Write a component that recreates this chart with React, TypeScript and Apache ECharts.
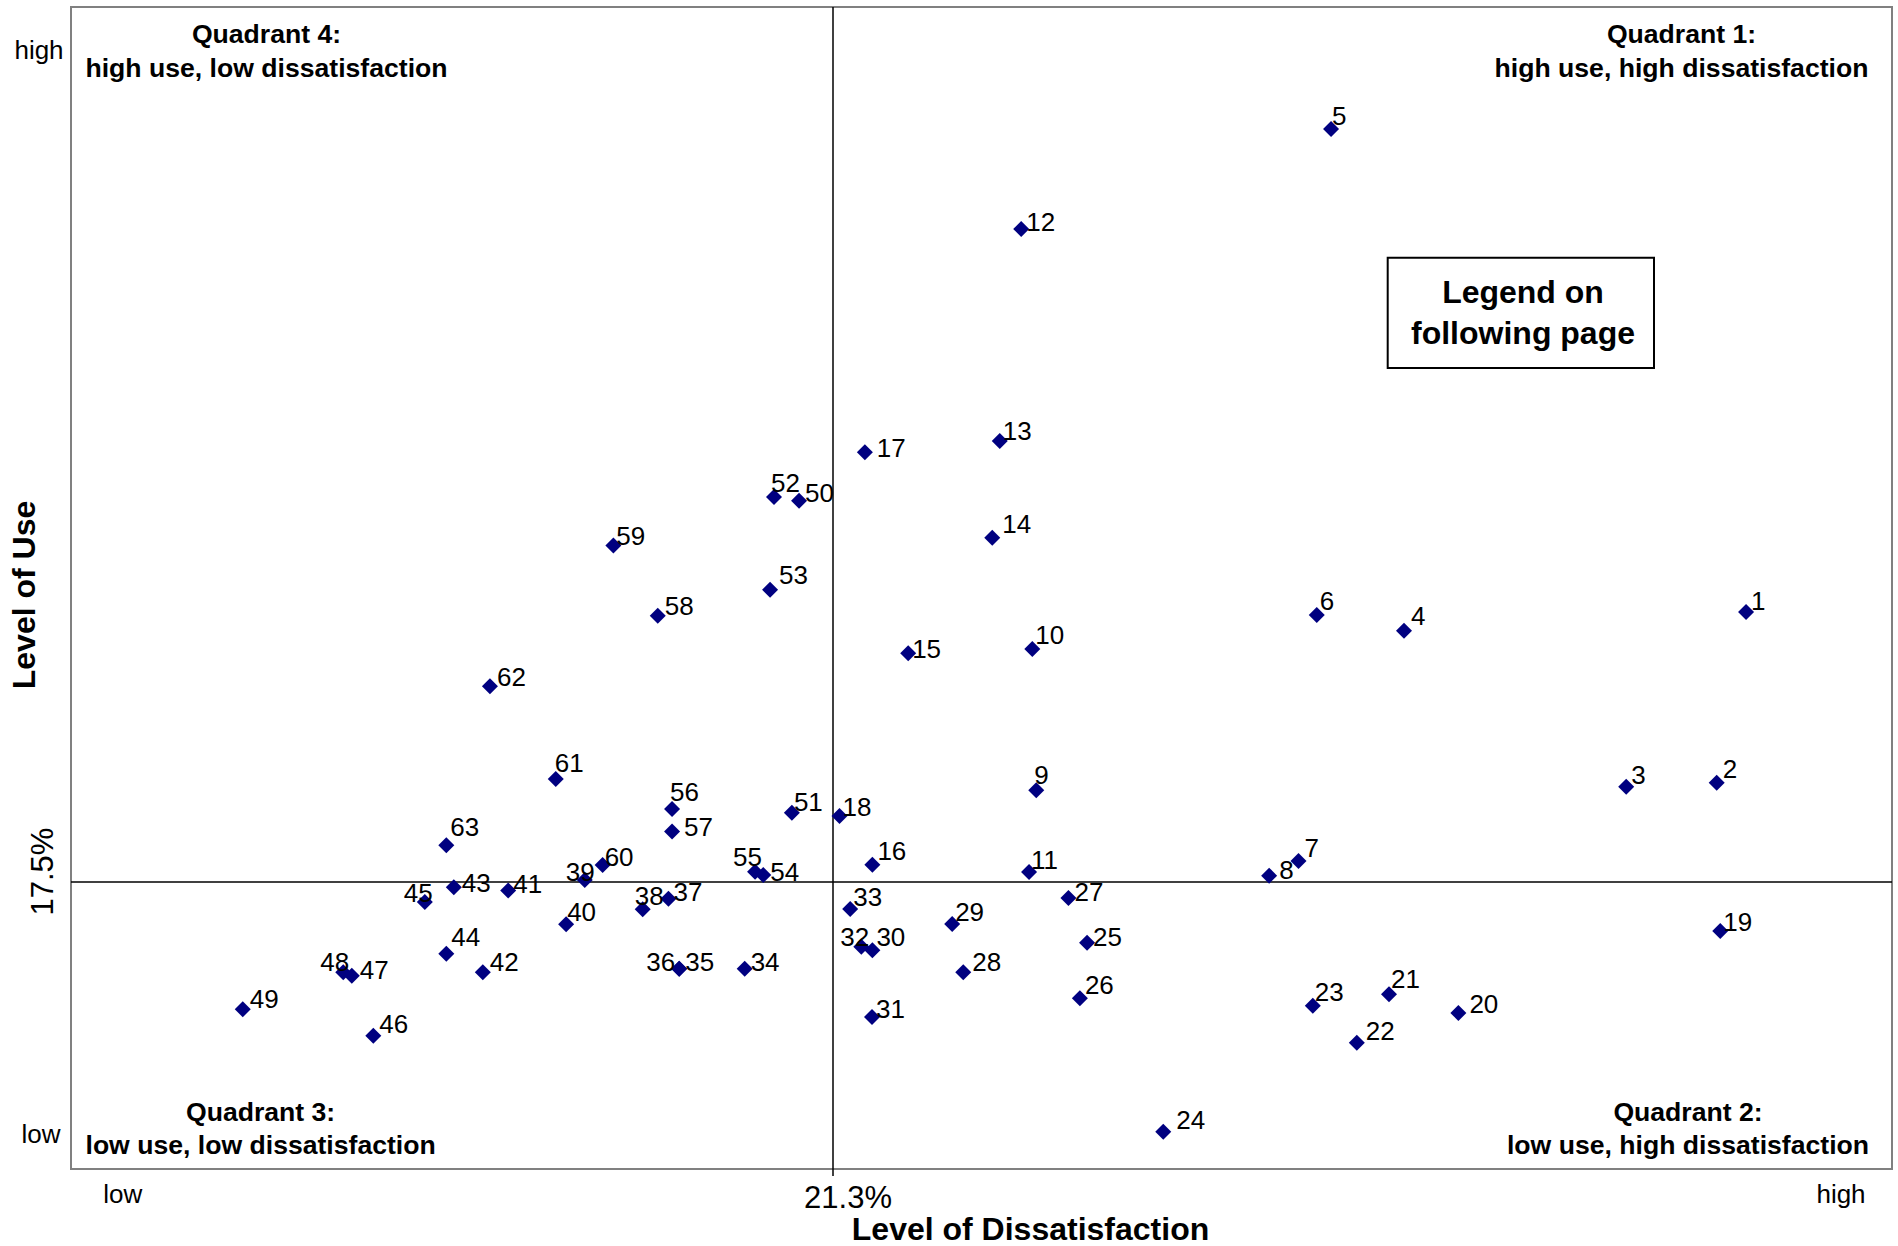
import React, { useEffect, useRef } from "react";
import * as echarts from "echarts";

// ---- data ----
const pointIds = [
  1, 2, 3, 4, 5, 6, 7, 8, 9, 10, 11, 12, 13, 14, 15, 16, 17, 18, 19, 20, 21,
  22, 23, 24, 25, 26, 27, 28, 29, 30, 31, 32, 33, 34, 35, 36, 37, 38, 39, 40,
  41, 42, 43, 44, 45, 46, 47, 48, 49, 50, 51, 52, 53, 54, 55, 56, 57, 58, 59,
  60, 61, 62, 63,
];

// Level of Dissatisfaction (x)
const dissatisfaction = [
  46.82, 46.0, 43.47, 37.26, 35.22, 34.82, 34.31, 33.49, 26.98, 26.87, 26.78,
  26.56, 25.96, 25.75, 23.4, 22.4, 22.19, 21.48, 46.1, 38.78, 36.84, 35.94,
  34.71, 30.53, 28.4, 28.2, 27.88, 24.94, 24.63, 22.4, 22.39, 22.09, 21.78,
  18.83, 17.0, 17.0, 16.7, 15.98, 14.36, 13.84, 12.22, 11.51, 10.7, 10.49,
  9.89, 8.45, 7.85, 7.61, 4.8, 20.35, 20.15, 19.65, 19.54, 19.35, 19.12, 16.8,
  16.8, 16.4, 15.16, 14.86, 13.55, 11.71, 10.49,
];

// Level of Use (y)
const levelOfUse = [
  33.99, 23.57, 23.33, 32.84, 63.46, 33.8, 18.8, 17.9, 23.11, 31.73, 18.12,
  57.35, 44.42, 38.52, 31.47, 18.57, 43.73, 21.54, 14.52, 9.52, 10.66, 7.71,
  9.96, 2.28, 13.81, 10.42, 16.53, 12.0, 14.95, 13.34, 9.27, 13.56, 15.86,
  12.22, 12.22, 12.22, 16.49, 15.85, 17.63, 14.93, 17.0, 12.0, 17.19, 13.14,
  16.29, 8.13, 11.79, 12.0, 9.74, 40.78, 21.74, 41.0, 35.35, 17.94, 18.14,
  21.97, 20.6, 33.76, 38.05, 18.55, 23.8, 29.45, 19.75,
];

const X_MIN = 0;
const X_MAX = 50.9;
const X_CROSS = 21.3;
const Y_MIN = 0;
const Y_MAX = 70.9;
const Y_CROSS = 17.5;

const endLabels = { low: "low", high: "high" };
const xAxisTitle = "Level of Dissatisfaction";
const yAxisTitle = "Level of Use";
const quadrantTitles = ["Quadrant 1:", "Quadrant 2:", "Quadrant 3:", "Quadrant 4:"];
const quadrantSubtitles = [
  "high use, high dissatisfaction",
  "low use, high dissatisfaction",
  "low use, low dissatisfaction",
  "high use, low dissatisfaction",
];
const legendNote = ["Legend on", "following page"];

// ---- label placement (manual nudges, as in the original) ----
const DEFAULT_NUDGE: [number, number] = [5, -11];
const labelNudge: Record<number, [number, number]> = {
  1: [5, -11], 2: [6, -14], 3: [5, -12], 4: [7, -15], 5: [1, -13], 6: [3, -14],
  7: [6, -13], 8: [10, -6], 9: [-2, -15], 10: [3, -14], 11: [2, -12], 12: [5, -7],
  13: [3, -10], 14: [10, -14], 15: [4, -4], 16: [5, -14], 17: [12, -4], 18: [3, -9],
  19: [3, -9], 20: [11, -9], 21: [2, -15], 22: [9, -12], 23: [2, -14], 24: [13, -12],
  25: [6, -6], 26: [5, -13], 27: [6, -6], 28: [9, -10], 29: [3, -12], 30: [4, -13],
  31: [4, -8], 32: [-21, -10], 33: [3, -12], 34: [6, -7], 35: [6, -7], 36: [-33, -7],
  37: [5, -7], 38: [-8, -13], 39: [-19, -8], 40: [1, -12], 41: [5, -6], 42: [7, -10],
  43: [8, -4], 44: [5, -17], 45: [-21, -9], 46: [6, -12], 47: [8, -6], 48: [-23, -10],
  49: [7, -10], 50: [6, -8], 51: [2, -11], 52: [-3, -14], 53: [9, -15], 54: [7, -3],
  55: [-22, -15], 56: [-2, -17], 57: [12, -4], 58: [7, -10], 59: [3, -9], 60: [2, -8],
  61: [-1, -16], 62: [7, -9], 63: [4, -18],
};

const FONT = "'Liberation Sans', Arial, Helvetica, sans-serif";

export default function App() {
  const ref = useRef<HTMLDivElement>(null);

  useEffect(() => {
    if (!ref.current) return;
    const chart = echarts.init(ref.current, undefined, { renderer: "svg" });

    const data = pointIds.map((id, i) => ({
      name: String(id),
      value: [dissatisfaction[i], levelOfUse[i]],
      label: { offset: labelNudge[id] || DEFAULT_NUDGE },
    }));

    const txt = (
      text: string,
      x: number,
      y: number,
      size: number,
      bold: boolean,
      align: string = "center",
      rotation: number = 0
    ) => ({
      type: "text",
      x,
      y,
      rotation,
      silent: true,
      style: {
        text,
        fill: "#000",
        font: `${bold ? "bold " : ""}${size}px ${FONT}`,
        textAlign: align,
        textVerticalAlign: "middle",
      },
    });

    const Q = 26.6;
    const graphics: any[] = [
      // quadrant captions
      txt(quadrantTitles[3], 266.5, 34.3, Q, true),
      txt(quadrantSubtitles[3], 266.5, 68.3, Q, true),
      txt(quadrantTitles[0], 1681.5, 34.3, Q, true),
      txt(quadrantSubtitles[0], 1681.5, 68.3, Q, true),
      txt(quadrantTitles[2], 260.6, 1111.7, Q, true),
      txt(quadrantSubtitles[2], 260.6, 1145, Q, true),
      txt(quadrantTitles[1], 1688, 1111.7, Q, true),
      txt(quadrantSubtitles[1], 1688, 1145, Q, true),
      // legend note box
      {
        type: "rect",
        silent: true,
        shape: { x: 1387.7, y: 257.7, width: 266.3, height: 110.3 },
        style: { fill: "#fff", stroke: "#000", lineWidth: 2 },
        z: 10,
      },
      { ...txt(legendNote[0], 1523, 292, 32, true), z: 11 },
      { ...txt(legendNote[1], 1523, 333, 32, true), z: 11 },
      // y-axis end labels and crossing value
      txt(endLabels.high, 39, 50.3, 26, false),
      txt(endLabels.low, 41, 1133.7, 26, false),
      txt(`${Y_CROSS}%`, 42, 871.6, 31, false, "center", Math.PI / 2),
      txt(yAxisTitle, 24, 595, 32, true, "center", Math.PI / 2),
      // x-axis end labels and crossing value
      txt(endLabels.low, 122.8, 1194.3, 26, false),
      txt(endLabels.high, 1841, 1194.3, 26, false),
      txt(`${X_CROSS}%`, 848, 1197, 31, false),
      txt(xAxisTitle, 1030.5, 1229.3, 32, true),
    ];

    chart.setOption({
      animation: false,
      backgroundColor: "#fff",
      grid: {
        left: 71,
        top: 7,
        width: 1821,
        height: 1162,
        show: true,
        borderColor: "#808080",
        borderWidth: 2,
        backgroundColor: "transparent",
        containLabel: false,
      },
      xAxis: {
        type: "value",
        min: X_MIN,
        max: X_MAX,
        axisLine: { show: false },
        axisTick: {
          show: true,
          customValues: [X_CROSS],
          length: 7,
          inside: false,
          lineStyle: { color: "#000", width: 1.5 },
        },
        axisLabel: { show: false },
        splitLine: { show: false },
      },
      yAxis: {
        type: "value",
        min: Y_MIN,
        max: Y_MAX,
        axisLine: { show: false },
        axisTick: { show: false },
        axisLabel: { show: false },
        splitLine: { show: false },
      },
      series: [
        {
          type: "scatter",
          symbol: "diamond",
          symbolSize: 16,
          itemStyle: { color: "#000080", opacity: 1 },
          z: 3,
          label: {
            show: true,
            formatter: "{b}",
            position: ["50%", "50%"],
            align: "left",
            verticalAlign: "middle",
            color: "#000",
            fontSize: 26,
            fontFamily: FONT,
          },
          emphasis: { disabled: true },
          data,
          markLine: {
            silent: true,
            symbol: "none",
            z: 1,
            label: { show: false },
            lineStyle: { color: "#000", width: 1.5, type: "solid", opacity: 1 },
            emphasis: { disabled: true },
            data: [{ xAxis: X_CROSS }, { yAxis: Y_CROSS }],
          },
        },
      ],
      graphic: graphics,
    });

    return () => chart.dispose();
  }, []);

  return (
    <div
      ref={ref}
      style={{
        position: "absolute",
        left: 0,
        top: 0,
        width: 1898,
        height: 1246,
        background: "#fff",
      }}
    />
  );
}
